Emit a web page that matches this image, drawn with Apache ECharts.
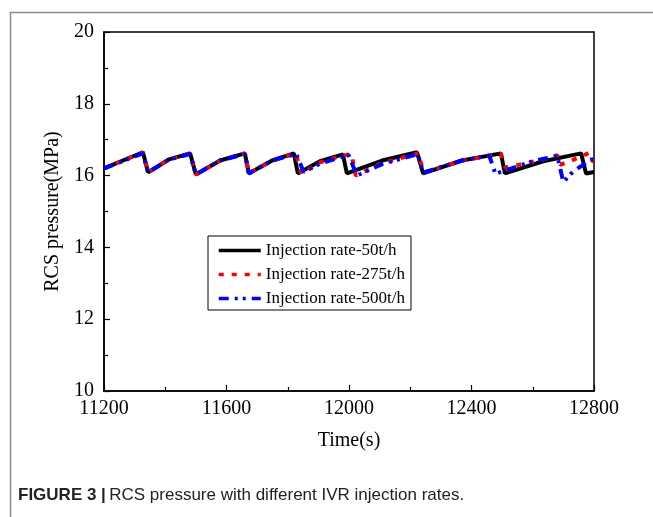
<!DOCTYPE html>
<html>
<head>
<meta charset="utf-8">
<script src="https://cdn.jsdelivr.net/npm/echarts@6/dist/echarts.min.js"></script>
<style>html,body{margin:0;padding:0;background:#fff;}#c{width:653px;height:517px;}</style>
</head>
<body>
<div id="c"></div>
<script>
var seriesNames = ['Injection rate-50t/h', 'Injection rate-275t/h', 'Injection rate-500t/h'];
var xTicks = [11200, 11600, 12000, 12400, 12800];
var yTicks = [10, 12, 14, 16, 18, 20];

var rate50 = [[11200,16.2],[11327,16.65],[11344,16.09],[11412,16.45],[11481,16.62],[11500,16.03],[11579,16.42],[11660,16.62],[11673,16.06],[11749,16.42],[11820,16.62],[11833,16.06],[11905,16.4],[11980,16.59],[11993,16.06],[12108,16.42],[12222,16.65],[12242,16.06],[12369,16.42],[12496,16.62],[12509,16.06],[12634,16.4],[12758,16.62],[12774,16.06],[12800,16.1]];
var rate275 = [[11200,16.2],[11327,16.65],[11344,16.09],[11412,16.45],[11481,16.62],[11500,16.03],[11579,16.42],[11660,16.62],[11673,16.06],[11749,16.42],[11826,16.62],[11845,16.05],[11905,16.37],[11975,16.55],[12008,16.6],[12022,16.0],[12108,16.35],[12226,16.62],[12244,16.08],[12369,16.42],[12496,16.6],[12512,16.22],[12634,16.45],[12680,16.57],[12690,16.3],[12750,16.5],[12788,16.65],[12795,16.4],[12800,16.4]];
var rate500 = [[11200,16.2],[11327,16.62],[11344,16.09],[11412,16.45],[11481,16.6],[11500,16.03],[11579,16.42],[11660,16.6],[11673,16.06],[11749,16.42],[11828,16.6],[11852,16.1],[11905,16.33],[11998,16.58],[12026,16.0],[12108,16.32],[12225,16.6],[12242,16.08],[12369,16.42],[12458,16.56],[12478,16.05],[12600,16.4],[12680,16.55],[12700,15.82],[12730,16.1],[12790,16.45],[12800,16.45]];

var serif = 'Liberation Serif, Times New Roman, serif';
var chart = echarts.init(document.getElementById('c'), null, {renderer: 'canvas'});
chart.setOption({
  animation: false,
  backgroundColor: '#fff',
  grid: {left: 104, top: 32, right: 59, bottom: 126, show: true, borderColor: '#000', borderWidth: 1.5, backgroundColor: 'transparent'},
  xAxis: {
    type: 'value', min: xTicks[0], max: xTicks[xTicks.length - 1], interval: 400,
    name: 'Time(s)', nameLocation: 'middle', nameGap: 40,
    nameTextStyle: {fontFamily: serif, fontSize: 20, color: '#000'},
    axisLine: {show: true, onZero: false, lineStyle: {color: '#000', width: 1.5}},
    axisTick: {show: true, inside: true, length: 6, lineStyle: {color: '#000', width: 1.2}},
    minorTick: {show: true, splitNumber: 2, length: 4, lineStyle: {color: '#000', width: 1.2}},
    axisLabel: {fontFamily: serif, fontSize: 20, color: '#000', margin: 8, formatter: function (v) { return String(v); }},
    splitLine: {show: false}
  },
  yAxis: {
    type: 'value', min: yTicks[0], max: yTicks[yTicks.length - 1], interval: 2,
    name: 'RCS pressure(MPa)', nameLocation: 'middle', nameGap: 37, nameRotate: 90,
    nameTextStyle: {fontFamily: serif, fontSize: 20, color: '#000'},
    axisLine: {show: true, onZero: false, lineStyle: {color: '#000', width: 1.5}},
    axisTick: {show: true, inside: true, length: 6, lineStyle: {color: '#000', width: 1.2}},
    minorTick: {show: true, splitNumber: 2, length: 4, lineStyle: {color: '#000', width: 1.2}},
    axisLabel: {fontFamily: serif, fontSize: 20, color: '#000', margin: 10, formatter: function (v) { return String(v); }},
    splitLine: {show: false}
  },
  legend: {
    orient: 'vertical', left: 208, top: 236,
    data: seriesNames,
    padding: [6, 6, 3, 9], itemGap: 7, itemWidth: 42, itemHeight: 17,
    borderColor: '#000', borderWidth: 1, backgroundColor: '#fff',
    itemStyle: {opacity: 0},
    lineStyle: {width: 3.5},
    textStyle: {fontFamily: serif, fontSize: 17, color: '#000'}
  },
  series: [
    {name: seriesNames[0], type: 'line', data: rate50, showSymbol: false, symbol: 'none', z: 2,
     lineStyle: {color: '#000', width: 4}, itemStyle: {color: '#000'}},
    {name: seriesNames[1], type: 'line', data: rate275, showSymbol: false, symbol: 'none', z: 3,
     lineStyle: {color: '#ff0000', width: 4, type: [5, 8]}, itemStyle: {color: '#ff0000'}},
    {name: seriesNames[2], type: 'line', data: rate500, showSymbol: false, symbol: 'none', z: 4,
     lineStyle: {color: '#0000ff', width: 4, type: [10, 6, 3, 5, 3, 6]}, itemStyle: {color: '#0000ff'}}
  ],
  graphic: [
    {type: 'rect', left: 8, top: 10, shape: {width: 700, height: 600}, style: {fill: 'none', stroke: '#8c8c8c', lineWidth: 1.5}, silent: true, z: -1},
    {type: 'text', left: 18, top: 487, style: {
      text: '{b|FIGURE 3 |} {r|RCS pressure with different IVR injection rates.}',
      rich: {
        b: {fontFamily: 'Liberation Sans, Arial, sans-serif', fontWeight: 'bold', fontSize: 17, fill: '#222'},
        r: {fontFamily: 'Liberation Sans, Arial, sans-serif', fontSize: 17, fill: '#222'}
      }
    }}
  ]
});
</script>
</body>
</html>
